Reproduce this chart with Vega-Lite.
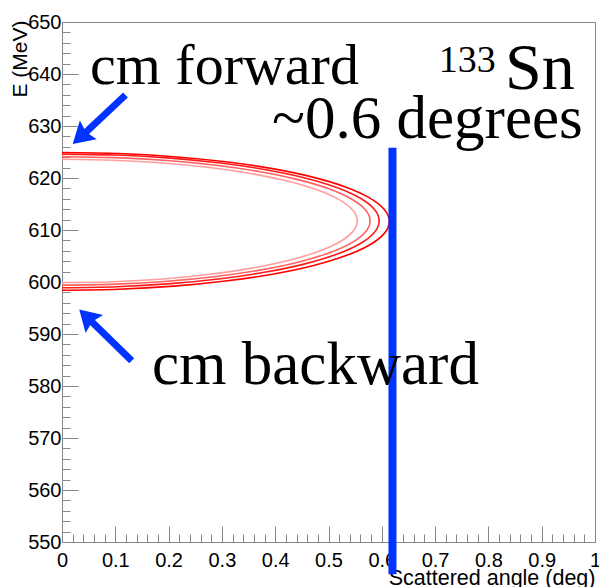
{
  "$schema": "https://vega.github.io/schema/vega-lite/v6.json",
  "width": 533,
  "height": 520,
  "autosize": "none",
  "padding": {"left": 62, "top": 22, "right": 4, "bottom": 45},
  "background": "white",
  "config": {
    "view": {"stroke": "#888888", "strokeWidth": 1},
    "axis": {"labelFont": "Liberation Sans", "titleFont": "Liberation Sans", "labelFontSize": 20, "titleFontSize": 21, "labelColor": "#000", "titleColor": "#000", "titleFontWeight": "normal", "domainColor": "#888888", "tickColor": "#888888", "grid": false}
  },
  "resolve": {"axis": {"x": "independent", "y": "independent"}},
  "layer": [
    {
      "data": {"values": [
        {"c":"a","t":0,"x":0,"e":624.90},{"c":"a","t":10,"x":0.1066,"e":624.70},{"c":"a","t":20,"x":0.2100,"e":624.10},{"c":"a","t":30,"x":0.3070,"e":623.13},{"c":"a","t":40,"x":0.3947,"e":621.80},{"c":"a","t":50,"x":0.4704,"e":620.17},{"c":"a","t":60,"x":0.5317,"e":618.28},{"c":"a","t":70,"x":0.5770,"e":616.18},{"c":"a","t":80,"x":0.6047,"e":613.95},{"c":"a","t":90,"x":0.6140,"e":611.65},{"c":"a","t":100,"x":0.6047,"e":609.35},{"c":"a","t":110,"x":0.5770,"e":607.12},{"c":"a","t":120,"x":0.5317,"e":605.03},{"c":"a","t":130,"x":0.4704,"e":603.13},{"c":"a","t":140,"x":0.3947,"e":601.50},{"c":"a","t":150,"x":0.3070,"e":600.18},{"c":"a","t":160,"x":0.2100,"e":599.20},{"c":"a","t":170,"x":0.1066,"e":598.60},{"c":"a","t":180,"x":0,"e":598.40},
        {"c":"b","t":0,"x":0,"e":624.60},{"c":"b","t":10,"x":0.1033,"e":624.41},{"c":"b","t":20,"x":0.2035,"e":623.83},{"c":"b","t":30,"x":0.2975,"e":622.88},{"c":"b","t":40,"x":0.3825,"e":621.59},{"c":"b","t":50,"x":0.4558,"e":620.01},{"c":"b","t":60,"x":0.5153,"e":618.18},{"c":"b","t":70,"x":0.5591,"e":616.15},{"c":"b","t":80,"x":0.5860,"e":613.98},{"c":"b","t":90,"x":0.5950,"e":611.75},{"c":"b","t":100,"x":0.5860,"e":609.52},{"c":"b","t":110,"x":0.5591,"e":607.36},{"c":"b","t":120,"x":0.5153,"e":605.33},{"c":"b","t":130,"x":0.4558,"e":603.49},{"c":"b","t":140,"x":0.3825,"e":601.91},{"c":"b","t":150,"x":0.2975,"e":600.62},{"c":"b","t":160,"x":0.2035,"e":599.68},{"c":"b","t":170,"x":0.1033,"e":599.10},{"c":"b","t":180,"x":0,"e":598.90},
        {"c":"c","t":0,"x":0,"e":624.10},{"c":"c","t":10,"x":0.1004,"e":623.91},{"c":"c","t":20,"x":0.1977,"e":623.36},{"c":"c","t":30,"x":0.2890,"e":622.45},{"c":"c","t":40,"x":0.3715,"e":621.21},{"c":"c","t":50,"x":0.4428,"e":619.69},{"c":"c","t":60,"x":0.5006,"e":617.93},{"c":"c","t":70,"x":0.5431,"e":615.97},{"c":"c","t":80,"x":0.5692,"e":613.90},{"c":"c","t":90,"x":0.5780,"e":611.75},{"c":"c","t":100,"x":0.5692,"e":609.61},{"c":"c","t":110,"x":0.5431,"e":607.53},{"c":"c","t":120,"x":0.5006,"e":605.58},{"c":"c","t":130,"x":0.4428,"e":603.81},{"c":"c","t":140,"x":0.3715,"e":602.29},{"c":"c","t":150,"x":0.2890,"e":601.06},{"c":"c","t":160,"x":0.1977,"e":600.15},{"c":"c","t":170,"x":0.1004,"e":599.59},{"c":"c","t":180,"x":0,"e":599.40},
        {"c":"d","t":0,"x":0,"e":623.60},{"c":"d","t":10,"x":0.0962,"e":623.42},{"c":"d","t":20,"x":0.1895,"e":622.89},{"c":"d","t":30,"x":0.2770,"e":622.01},{"c":"d","t":40,"x":0.3561,"e":620.83},{"c":"d","t":50,"x":0.4244,"e":619.37},{"c":"d","t":60,"x":0.4798,"e":617.68},{"c":"d","t":70,"x":0.5206,"e":615.80},{"c":"d","t":80,"x":0.5456,"e":613.81},{"c":"d","t":90,"x":0.5540,"e":611.75},{"c":"d","t":100,"x":0.5456,"e":609.69},{"c":"d","t":110,"x":0.5206,"e":607.70},{"c":"d","t":120,"x":0.4798,"e":605.83},{"c":"d","t":130,"x":0.4244,"e":604.13},{"c":"d","t":140,"x":0.3561,"e":602.67},{"c":"d","t":150,"x":0.2770,"e":601.49},{"c":"d","t":160,"x":0.1895,"e":600.58},{"c":"d","t":170,"x":0.0962,"e":600.05},{"c":"d","t":180,"x":0,"e":599.90}
      ]},
      "mark": {"type": "line", "interpolate": "cardinal", "strokeWidth": 1.6},
      "encoding": {
        "x": {"field": "x", "type": "quantitative", "scale": {"domain": [0, 1], "nice": false, "zero": false},
          "axis": {"orient": "bottom", "values": [0,0.1,0.2,0.3,0.4,0.5,0.6,0.7,0.8,0.9,1], "format": "~g", "tickSize": -16, "labelPadding": 24, "labelFlush": false, "labelOverlap": false, "title": "Scattered angle (deg)", "titleFontSize": 21.5, "titleAnchor": "end", "titleAlign": "right", "titleBaseline": "alphabetic", "titleX": 533, "titleY": 42}},
        "y": {"field": "e", "type": "quantitative", "scale": {"domain": [550, 650], "nice": false, "zero": false},
          "axis": {"orient": "left", "values": [550,560,570,580,590,600,610,620,630,640,650], "tickSize": -16, "labelPadding": 17, "labelFlush": false, "labelOverlap": false, "title": "E (MeV)", "titleFontSize": 21, "titleAngle": -90, "titleAlign": "right", "titleBaseline": "middle", "titleX": -42, "titleY": -2}},
        "color": {"field": "c", "type": "nominal", "scale": {"domain": ["a","b","c","d"], "range": ["#ff0000","#ff1a1a","#ff6060","#ff9f9f"]}, "legend": null},
        "order": {"field": "t", "type": "quantitative"}
      }
    },
    {
      "data": {"values": [{"x": 0.62, "top": 625.8, "bottom": 543.8}]},
      "mark": {"type": "rule", "color": "#0033ff", "strokeWidth": 8, "clip": false},
      "encoding": {
        "x": {"field": "x", "type": "quantitative",
          "axis": {"orient": "bottom", "values": [0.02,0.04,0.06,0.08,0.12,0.14,0.16,0.18,0.22,0.24,0.26,0.28,0.32,0.34,0.36,0.38,0.42,0.44,0.46,0.48,0.52,0.54,0.56,0.58,0.62,0.64,0.66,0.68,0.72,0.74,0.76,0.78,0.82,0.84,0.86,0.88,0.92,0.94,0.96,0.98], "tickSize": -8, "labels": false, "domain": false, "title": null}},
        "y": {"field": "top", "type": "quantitative",
          "axis": {"orient": "left", "values": [552,554,556,558,562,564,566,568,572,574,576,578,582,584,586,588,592,594,596,598,602,604,606,608,612,614,616,618,622,624,626,628,632,634,636,638,642,644,646,648], "tickSize": -8, "labels": false, "domain": false, "title": null}},
        "y2": {"field": "bottom"}
      }
    },
    {
      "data": {"values": [
        {"x1": 0.1191, "y1": 635.96, "x2": 0.0413, "y2": 628.46},
        {"x1": 0.1308, "y1": 584.87, "x2": 0.0544, "y2": 592.5}
      ]},
      "mark": {"type": "rule", "color": "#0033ff", "strokeWidth": 7},
      "encoding": {
        "x": {"field": "x1", "type": "quantitative", "axis": null},
        "y": {"field": "y1", "type": "quantitative", "axis": null},
        "x2": {"field": "x2"},
        "y2": {"field": "y2"}
      }
    },
    {
      "data": {"values": [
        {"x": 0.0347, "y": 627.9, "dir": 228},
        {"x": 0.0465, "y": 593.33, "dir": 314}
      ]},
      "mark": {"type": "point", "filled": true, "color": "#0033ff", "opacity": 1, "size": 441, "shape": "M0,-1L1.2,1L0,0.7L-1.2,1Z"},
      "encoding": {
        "x": {"field": "x", "type": "quantitative", "axis": null},
        "y": {"field": "y", "type": "quantitative", "axis": null},
        "angle": {"field": "dir", "type": "quantitative", "scale": null}
      }
    },
    {
      "data": {"values": [{"label": "cm forward", "x": 0.0525, "y": 638.1}]},
      "mark": {"type": "text", "font": "Liberation Serif", "fontSize": 58, "align": "left", "baseline": "alphabetic", "color": "#000"},
      "encoding": {
        "x": {"field": "x", "type": "quantitative", "axis": null},
        "y": {"field": "y", "type": "quantitative", "axis": null},
        "text": {"field": "label"}
      }
    },
    {
      "data": {"values": [
        {"label": "cm backward", "x": 0.1689, "y": 580.4},
        {"label": "~0.6 degrees", "x": 0.394, "y": 627.7}
      ]},
      "mark": {"type": "text", "font": "Liberation Serif", "fontSize": 61, "align": "left", "baseline": "alphabetic", "color": "#000"},
      "encoding": {
        "x": {"field": "x", "type": "quantitative", "axis": null},
        "y": {"field": "y", "type": "quantitative", "axis": null},
        "text": {"field": "label"}
      }
    },
    {
      "data": {"values": [{"label": "Sn", "x": 0.831, "y": 637.06}]},
      "mark": {"type": "text", "font": "Liberation Serif", "fontSize": 66, "align": "left", "baseline": "alphabetic", "color": "#000"},
      "encoding": {
        "x": {"field": "x", "type": "quantitative", "axis": null},
        "y": {"field": "y", "type": "quantitative", "axis": null},
        "text": {"field": "label"}
      }
    },
    {
      "data": {"values": [{"label": "133", "x": 0.707, "y": 640.4}]},
      "mark": {"type": "text", "font": "Liberation Serif", "fontSize": 38, "align": "left", "baseline": "alphabetic", "color": "#000"},
      "encoding": {
        "x": {"field": "x", "type": "quantitative", "axis": null},
        "y": {"field": "y", "type": "quantitative", "axis": null},
        "text": {"field": "label"}
      }
    }
  ]
}
